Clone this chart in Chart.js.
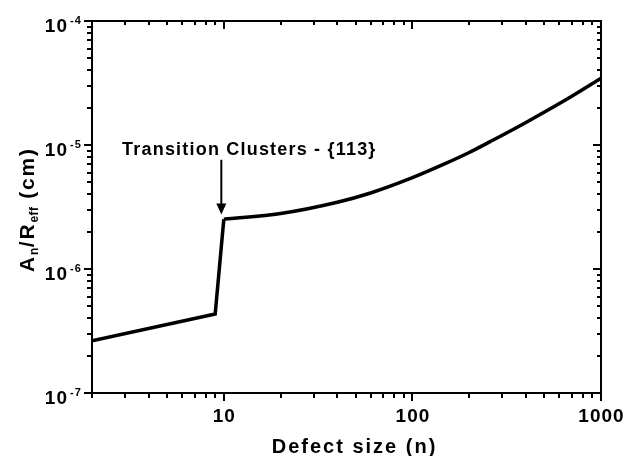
<!DOCTYPE html>
<html>
<head>
<meta charset="utf-8">
<script src="https://cdn.jsdelivr.net/npm/chart.js@4/dist/chart.umd.min.js"></script>
<style>
  html, body { margin: 0; padding: 0; background: #fff; }
  canvas { display: block; }
</style>
</head>
<body>
<canvas id="chart" width="641" height="456"></canvas>
<script>
// Point-defect branch: straight rise up to the transition
const smallClusterN = [2, 9, 10];
const smallClusterRatio = [2.64e-7, 4.34e-7, 2.52e-6];

// {113} cluster branch after the transition
const clusterN = [10, 20, 40, 60, 100, 150, 200, 260, 400, 700, 1000];
const clusterRatio = [2.52e-6, 2.8e-6, 3.45e-6, 4.1e-6, 5.45e-6, 7.1e-6, 8.7e-6, 1.07e-5, 1.52e-5, 2.47e-5, 3.45e-5];

// Axis ticks
const xMajorTicks = [10, 100, 1000];
const xTickLabels = ['10', '100', '1000'];
const xMinorTicks = [2, 3, 4, 5, 6, 7, 8, 9, 20, 30, 40, 50, 60, 70, 80, 90, 200, 300, 400, 500, 600, 700, 800, 900];
const yMajorTicks = [1e-7, 1e-6, 1e-5, 1e-4];
const yTickExponents = ['-7', '-6', '-5', '-4'];
const yMinorTicks = [];
[1e-7, 1e-6, 1e-5].forEach(d => { for (let m = 2; m <= 9; m++) yMinorTicks.push(m * d); });

// Annotation anchor (data coordinates)
const arrowN = 9.7;
const arrowTipRatio = 2.75e-6;
const arrowTailRatio = 7.6e-6;
const annotationText = 'Transition Clusters - {113}';

const FONT = '"Liberation Sans", Arial, Helvetica, sans-serif';

function setSpacing(ctx, px) {
  if ('letterSpacing' in ctx) ctx.letterSpacing = px + 'px';
}

const framePlugin = {
  id: 'frame',
  afterDatasetsDraw(chart) {
    const ctx = chart.ctx;
    const { left, right, top, bottom } = chart.chartArea;
    const xs = chart.scales.x, ys = chart.scales.y;
    ctx.save();
    ctx.strokeStyle = '#000';
    ctx.fillStyle = '#000';

    // frame
    ctx.lineWidth = 2;
    ctx.strokeRect(left, top, right - left, bottom - top);

    // ticks: outward on bottom/left, inward on top/right
    ctx.lineWidth = 2;
    const majorLen = 8, minorLen = 5, innerMajor = 8, innerMinor = 4;
    ctx.beginPath();
    const xTick = (v, outLen, inLen) => {
      const px = Math.round(xs.getPixelForValue(v));
      ctx.moveTo(px, bottom); ctx.lineTo(px, bottom + outLen);
      ctx.moveTo(px, top); ctx.lineTo(px, top + inLen);
    };
    const yTick = (v, outLen, inLen) => {
      const py = Math.round(ys.getPixelForValue(v));
      ctx.moveTo(left, py); ctx.lineTo(left - outLen, py);
      ctx.moveTo(right, py); ctx.lineTo(right - inLen, py);
    };
    xMajorTicks.forEach(v => xTick(v, majorLen, innerMajor));
    xMinorTicks.forEach(v => xTick(v, minorLen, innerMinor));
    yMajorTicks.forEach(v => yTick(v, majorLen, innerMajor));
    yMinorTicks.forEach(v => yTick(v, minorLen, innerMinor));
    ctx.stroke();

    // x tick labels
    ctx.font = 'bold 19px ' + FONT;
    setSpacing(ctx, 1);
    ctx.textAlign = 'center';
    ctx.textBaseline = 'alphabetic';
    xMajorTicks.forEach((v, i) => {
      ctx.fillText(xTickLabels[i], xs.getPixelForValue(v) + 0.5, bottom + 29);
    });

    // y tick labels: 10 with superscript exponent
    yMajorTicks.forEach((v, i) => {
      const py = ys.getPixelForValue(v);
      ctx.font = 'bold 19px ' + FONT;
      setSpacing(ctx, 1);
      ctx.textAlign = 'right';
      ctx.fillText('10', left - 24, py + 11);
      ctx.font = 'bold 11px ' + FONT;
      setSpacing(ctx, 1);
      ctx.textAlign = 'left';
      ctx.fillText(yTickExponents[i], left - 22, py + 3);
    });

    // x axis title
    ctx.font = 'bold 20px ' + FONT;
    setSpacing(ctx, 2);
    ctx.textAlign = 'center';
    ctx.fillText('Defect size (n)', (left + right) / 2 + 8, bottom + 60);

    // y axis title with subscripts, rotated
    ctx.save();
    ctx.translate(34, (top + bottom) / 2 + 65);
    ctx.rotate(-Math.PI / 2);
    ctx.textAlign = 'left';
    const parts = [
      { t: 'A', sub: false },
      { t: 'n', sub: true },
      { t: '/R', sub: false },
      { t: 'eff', sub: true },
      { t: ' (cm)', sub: false }
    ];
    let x = 0;
    parts.forEach(p => {
      ctx.font = (p.sub ? 'bold 12px ' : 'bold 21px ') + FONT;
      setSpacing(ctx, p.sub ? 0.5 : 1.8);
      ctx.fillText(p.t, x, p.sub ? 4 : 0);
      x += ctx.measureText(p.t).width;
    });
    ctx.restore();

    // annotation arrow and label
    const ax = xs.getPixelForValue(arrowN);
    const tipY = ys.getPixelForValue(arrowTipRatio);
    const tailY = ys.getPixelForValue(arrowTailRatio);
    ctx.lineWidth = 2;
    ctx.beginPath();
    ctx.moveTo(ax, tailY);
    ctx.lineTo(ax, tipY - 8);
    ctx.stroke();
    ctx.beginPath();
    ctx.moveTo(ax - 5, tipY - 11);
    ctx.lineTo(ax + 5, tipY - 11);
    ctx.lineTo(ax, tipY);
    ctx.closePath();
    ctx.fill();

    ctx.font = 'bold 18px ' + FONT;
    setSpacing(ctx, 1.2);
    ctx.textAlign = 'center';
    ctx.fillText(annotationText, ax + 28, tailY - 5);

    ctx.restore();
  }
};

new Chart(document.getElementById('chart'), {
  type: 'line',
  data: {
    datasets: [
      {
        label: 'point defects',
        data: smallClusterN.map((n, i) => ({ x: n, y: smallClusterRatio[i] })),
        borderColor: '#000',
        borderWidth: 3.5,
        pointRadius: 0,
        tension: 0,
        fill: false
      },
      {
        label: '{113} clusters',
        data: clusterN.map((n, i) => ({ x: n, y: clusterRatio[i] })),
        borderColor: '#000',
        borderWidth: 3.5,
        pointRadius: 0,
        cubicInterpolationMode: 'monotone',
        fill: false
      }
    ]
  },
  options: {
    responsive: false,
    animation: false,
    devicePixelRatio: 1,
    layout: { padding: { left: 92, top: 21, right: 40, bottom: 63 } },
    plugins: { legend: { display: false }, tooltip: { enabled: false } },
    scales: {
      x: { type: 'logarithmic', min: 2, max: 1000, display: false },
      y: { type: 'logarithmic', min: 1e-7, max: 1e-4, display: false }
    }
  },
  plugins: [framePlugin]
});
</script>
</body>
</html>
